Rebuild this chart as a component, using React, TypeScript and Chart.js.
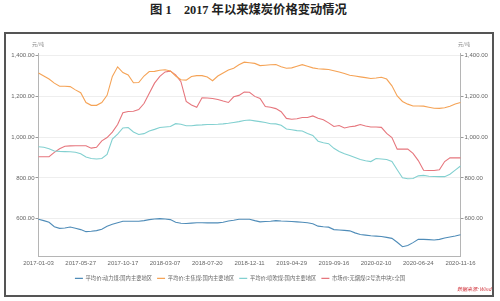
import React, { useEffect, useRef } from 'react';
import { Chart, registerables } from 'chart.js';

Chart.register(...registerables);

// x tick labels (every 8th sample)
const xTickLabels = [
  '2017-01-03', '2017-05-27', '2017-10-17', '2018-03-07', '2018-07-20', '2018-12-11',
  '2019-04-29', '2019-09-16', '2020-02-10', '2020-06-24', '2020-11-16',
];
const STEP = 8;
const categories = Array.from({ length: (xTickLabels.length - 1) * STEP + 1 }, (_, i) => String(i));

const seriesNames = [
  '平均价:动力煤:国内主要地区',
  '平均价:主焦煤:国内主要地区',
  '平均价:喷吹煤:国内主要地区',
  '市场价:无烟煤(2号洗中块):全国',
];

// 平均价:动力煤
const thermalCoal = [
  597, 590, 582, 560, 552, 554, 559, 553, 546, 536, 538, 541, 548, 562, 572, 580,
  587, 587, 587, 587, 590, 595, 598, 600, 598, 595, 582, 577, 576, 578, 580, 580,
  579, 579, 579, 582, 588, 592, 597, 597, 597, 590, 584, 586, 587, 590, 588, 587,
  586, 584, 582, 580, 575, 563, 560, 558, 546, 544, 542, 540, 530, 522, 519, 516,
  514, 512, 508, 503, 484, 462, 468, 482, 498, 498, 497, 495, 498, 505, 510, 515, 521,
];

// 平均价:主焦煤
const cokingCoal = [
  1315, 1300, 1285, 1265, 1250, 1250, 1248, 1232, 1218, 1170, 1156, 1156, 1170, 1205, 1298, 1345,
  1317, 1305, 1267, 1268, 1300, 1322, 1323, 1328, 1331, 1325, 1300, 1282, 1280, 1298, 1302, 1302,
  1295, 1277, 1300, 1315, 1330, 1338, 1355, 1368, 1365, 1362, 1351, 1353, 1355, 1356, 1345, 1338,
  1340, 1348, 1356, 1348, 1340, 1336, 1334, 1332, 1326, 1320, 1312, 1304, 1300, 1296, 1292, 1288,
  1290, 1294, 1285, 1252, 1202, 1175, 1162, 1153, 1153, 1152, 1147, 1142, 1141, 1144, 1152, 1163, 1170,
];

// 平均价:喷吹煤
const pciCoal = [
  953, 950, 943, 932, 930, 929, 928, 926, 918, 902, 895, 893, 895, 915, 990, 1015,
  1045, 1047, 1025, 1013, 1017, 1030, 1038, 1047, 1050, 1052, 1066, 1063, 1056, 1056, 1059, 1060,
  1062, 1062, 1063, 1065, 1068, 1072, 1076, 1082, 1084, 1080, 1076, 1072, 1066, 1065, 1058, 1040,
  1036, 1032, 1030, 1018, 1008, 980, 972, 968, 945, 930, 918, 910, 900, 890, 884, 880,
  895, 893, 890, 880, 840, 800, 796, 797, 810, 812, 808, 807, 806, 806, 818, 838, 858,
];

// 市场价:无烟煤(2号洗中块)
const anthracite = [
  904, 904, 904, 925, 943, 955, 957, 958, 958, 958, 946, 950, 982, 998, 1025, 1062,
  1120, 1126, 1127, 1135, 1165, 1215, 1265, 1298, 1320, 1324, 1306, 1272, 1175, 1158, 1147, 1193,
  1192, 1190, 1185, 1177, 1170, 1198, 1205, 1221, 1220, 1200, 1190, 1150, 1147, 1140, 1125, 1092,
  1088, 1090, 1096, 1096, 1104, 1093, 1085, 1070, 1052, 1057, 1045, 1051, 1054, 1062, 1055, 1050,
  1050, 1048, 1018, 998, 941, 941, 941, 920, 885, 837, 836, 836, 840, 880, 898, 898, 898,
];

const yTicks = [600, 800, 1000, 1200, 1400];
const colors = ['#4f8cb8', '#f5a356', '#82d0d0', '#e6767d'];

const fmt = (v: number) =>
  v.toLocaleString('en-US', { minimumFractionDigits: 2, maximumFractionDigits: 2 });

const legendShift = {
  id: 'legendShift',
  afterLayout(chart: any) {
    const lg = chart.legend;
    if (lg) {
      lg.left -= 10;
      lg.right -= 10;
    }
  },
};

export default function App() {
  const ref = useRef<HTMLCanvasElement | null>(null);

  useEffect(() => {
    if (!ref.current) return;
    const series = [thermalCoal, cokingCoal, pciCoal, anthracite];
    const tickFont = { family: 'Liberation Sans, Noto Sans CJK SC, sans-serif', size: 6 };
    const chart = new Chart(ref.current, {
      type: 'line',
      data: {
        labels: categories,
        datasets: series.map((d, i) => ({
          label: seriesNames[i],
          data: d,
          borderColor: colors[i],
          backgroundColor: colors[i],
          borderWidth: 1.1,
          pointRadius: 0,
          pointStyle: 'line',
          tension: 0,
          yAxisID: 'y',
        })),
      },
      plugins: [legendShift],
      options: {
        animation: false,
        responsive: false,
        devicePixelRatio: 1,
        layout: { padding: { top: 53, left: 6, right: 6, bottom: 10 } },
        plugins: {
          title: { display: false },
          tooltip: { enabled: false },
          legend: {
            position: 'bottom',
            labels: {
              usePointStyle: true,
              pointStyleWidth: 8,
              boxHeight: 6,
              padding: 5,
              color: '#666',
              font: { family: 'Noto Sans CJK SC, sans-serif', size: 5.3 },
            },
          },
        },
        scales: {
          x: {
            type: 'category',
            grid: { display: false, drawTicks: false },
            border: { display: true, color: '#b5b5b5' },
            ticks: {
              autoSkip: false,
              maxRotation: 0,
              padding: 3,
              color: '#666',
              font: tickFont,
              callback: (_v: any, idx: number) => (idx % STEP === 0 ? xTickLabels[idx / STEP] : null),
            },
            afterFit: (s: any) => { s.height = 14; },
          },
          y: {
            position: 'left',
            min: 413,
            max: 1413,
            afterBuildTicks: (s: any) => { s.ticks = yTicks.map((v) => ({ value: v })); },
            grid: { color: '#eeeeee', tickColor: '#999', tickLength: 3, drawTicks: true },
            border: { display: true, color: '#b5b5b5' },
            ticks: { color: '#666', font: tickFont, padding: 1, callback: (v: any) => fmt(Number(v)) },
            afterFit: (s: any) => { s.width = 32.5; },
          },
          y2: {
            position: 'right',
            min: 413,
            max: 1413,
            afterBuildTicks: (s: any) => { s.ticks = yTicks.map((v) => ({ value: v })); },
            grid: { drawOnChartArea: false, tickColor: '#999', tickLength: 3 },
            border: { display: true, color: '#b5b5b5' },
            ticks: { color: '#666', font: tickFont, padding: 1, callback: (v: any) => fmt(Number(v)) },
            afterFit: (s: any) => { s.width = 33.5; },
          },
        },
      },
    });
    return () => chart.destroy();
  }, []);

  return (
    <div style={{ position: 'fixed', left: 0, top: 0, width: 500, height: 301, background: '#fff', overflow: 'hidden' }}>
      <div
        style={{
          position: 'absolute', left: 0, top: 1, width: 497, textAlign: 'center',
          fontFamily: '"Liberation Serif", "Noto Sans CJK SC", serif', fontWeight: 'bold',
          fontSize: 12.3, lineHeight: '18px', color: '#222',
        }}
      >
        图 1　2017 年以来煤炭价格变动情况
      </div>
      <div
        style={{
          position: 'absolute', left: 4, top: 32, width: 490, height: 265,
          border: '2px solid #555', boxSizing: 'border-box',
        }}
      />
      <canvas ref={ref} width={500} height={301} style={{ position: 'absolute', left: 0, top: 0, width: 500, height: 301 }} />
      <span style={{ position: 'absolute', left: 32, top: 40, fontSize: 5, color: '#888', fontFamily: 'Noto Sans CJK SC, sans-serif' }}>元/吨</span>
      <span style={{ position: 'absolute', left: 458, top: 40, fontSize: 5, color: '#888', fontFamily: 'Noto Sans CJK SC, sans-serif' }}>元/吨</span>
      <span style={{ position: 'absolute', left: 457, top: 285, fontSize: 5, color: '#d0323a', fontStyle: 'italic', fontFamily: 'Noto Sans CJK SC, sans-serif' }}>数据来源: Wind</span>
    </div>
  );
}
